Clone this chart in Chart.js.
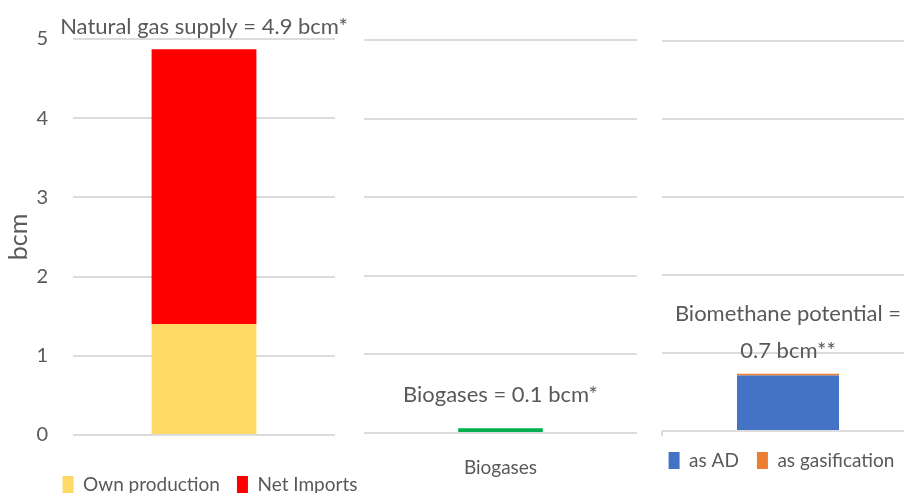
<!DOCTYPE html>
<html>
<head>
<meta charset="utf-8">
<script src="https://cdn.jsdelivr.net/npm/chart.js@4.4.1/dist/chart.umd.min.js"></script>
<style>
  html, body { margin: 0; padding: 0; background: #fff; overflow: hidden; }
  body { width: 904px; height: 493px; position: relative; }
  canvas { position: absolute; top: 0; }
  #supplyChart { left: 0; }
  #biogasChart { left: 340px; }
  #potentialChart { left: 600px; }
</style>
</head>
<body>
<canvas id="supplyChart" width="420" height="504"></canvas>
<canvas id="biogasChart" width="320" height="493"></canvas>
<canvas id="potentialChart" width="363" height="480"></canvas>
<script>
// values in bcm
var supplyLabels = ["Natural gas supply"];
var ownProduction = [1.40];
var netImports = [3.47];

var biogasLabels = ["Biogases"];
var biogases = [0.06];

var potentialLabels = ["Biomethane potential"];
var asAD = [0.71];
var asGasification = [0.025];

var yMin = 0;
var yMax = 5;
var yStep = 1;

var FONT = 'Lato, "Liberation Sans", Arial, sans-serif';
var TEXT = "#595959";
var GRID = "#dcdcdc";

Chart.defaults.font.family = FONT;
Chart.defaults.color = TEXT;
Chart.defaults.animation = false;

function total(list, i) {
    var s = 0;
    list.forEach(function (arr) { s += arr[i]; });
    return s;
}

// text written above the stacked bar, positioned from the bar's top value
var barNotes = {
    id: "barNotes",
    afterDatasetsDraw: function (chart, args, opts) {
        if (!opts.lines) return;
        var ctx = chart.ctx;
        var sets = chart.data.datasets.map(function (d) { return d.data; });
        var top = chart.scales.y.getPixelForValue(total(sets, 0));
        var bar = chart.getDatasetMeta(0).data[0];
        ctx.save();
        ctx.font = opts.size + "px " + FONT;
        ctx.fillStyle = TEXT;
        ctx.textAlign = "center";
        ctx.textBaseline = "alphabetic";
        var n = opts.lines.length;
        opts.lines.forEach(function (t, i) {
            ctx.fillText(t, bar.x, top - opts.gap - (n - 1 - i) * opts.lineHeight);
        });
        ctx.restore();
    }
};

function yScale(width, showTicks) {
    return {
        stacked: true,
        min: yMin,
        max: yMax,
        border: { display: false },
        grid: { color: GRID, lineWidth: 2, drawTicks: false },
        ticks: { display: showTicks, stepSize: yStep, padding: 25, font: { size: 20 } },
        afterFit: function (s) { s.width = width; }
    };
}

// empty right-hand axis, only reserves room so the legend centres under the whole panel
function spacer(width) {
    return {
        position: "right",
        display: true,
        border: { display: false },
        grid: { display: false, drawTicks: false },
        ticks: { display: false },
        afterFit: function (s) { s.width = width; }
    };
}

// Natural gas supply
var supplyChart = new Chart(document.getElementById("supplyChart"), {
    type: "bar",
    data: {
        labels: supplyLabels,
        datasets: [
            { label: "Own production", data: ownProduction, backgroundColor: "#ffd966" },
            { label: "Net Imports", data: netImports, backgroundColor: "#ff0000" }
        ]
    },
    options: {
        responsive: false,
        layout: { padding: { top: 39, left: 0, right: 0, bottom: 0 } },
        datasets: { bar: { barPercentage: 1, categoryPercentage: 0.4 } },
        scales: {
            x: {
                stacked: true,
                border: { display: false },
                grid: { display: false, drawTicks: false },
                ticks: { display: false },
                afterFit: function (s) { s.height = 23; }
            },
            y: Object.assign(yScale(73, true), {
                title: { display: true, text: "bcm", font: { size: 25 }, padding: { top: 4, bottom: 0 } }
            }),
            spare: spacer(85)
        },
        plugins: {
            legend: {
                position: "bottom",
                labels: { boxWidth: 11, boxHeight: 17, padding: 17, font: { size: 19 }, color: TEXT }
            },
            tooltip: { enabled: false },
            barNotes: {
                lines: ["Natural gas supply = " + total([ownProduction, netImports], 0).toFixed(1) + " bcm*"],
                size: 22, gap: 15, lineHeight: 37
            }
        }
    },
    plugins: [barNotes]
});

// Biogases
var biogasChart = new Chart(document.getElementById("biogasChart"), {
    type: "bar",
    data: {
        labels: biogasLabels,
        datasets: [
            { label: "Biogases", data: biogases, backgroundColor: "#00b050" }
        ]
    },
    options: {
        responsive: false,
        layout: { padding: { top: 40, left: 0, right: 23, bottom: 0 } },
        datasets: { bar: { barPercentage: 1, categoryPercentage: 0.31 } },
        scales: {
            x: {
                border: { display: false },
                grid: { display: false, drawTicks: false },
                ticks: { padding: 23, font: { size: 19 } },
                afterFit: function (s) { s.height = 60; }
            },
            y: yScale(24, false)
        },
        plugins: {
            legend: { display: false },
            tooltip: { enabled: false },
            barNotes: {
                lines: ["Biogases = " + biogases[0].toFixed(1) + " bcm*"],
                size: 22, gap: 26, lineHeight: 37
            }
        }
    },
    plugins: [barNotes]
});

// Biomethane potential
var potentialChart = new Chart(document.getElementById("potentialChart"), {
    type: "bar",
    data: {
        labels: potentialLabels,
        datasets: [
            { label: "as AD", data: asAD, backgroundColor: "#4472c4" },
            { label: "as gasification", data: asGasification, backgroundColor: "#ed7d31" }
        ]
    },
    options: {
        responsive: false,
        layout: { padding: { top: 41, left: 0, right: 0, bottom: 0 } },
        datasets: { bar: { barPercentage: 1, categoryPercentage: 0.405 } },
        scales: {
            x: {
                stacked: true,
                border: { display: false },
                grid: { drawOnChartArea: false, drawTicks: true, tickLength: 5, color: GRID, lineWidth: 2, offset: true },
                ticks: { display: false },
                afterFit: function (s) { s.height = 2; }
            },
            y: yScale(62, false),
            spare: spacer(49)
        },
        plugins: {
            legend: {
                position: "bottom",
                labels: { boxWidth: 11, boxHeight: 17, padding: 18, font: { size: 19 }, color: TEXT }
            },
            tooltip: { enabled: false },
            barNotes: {
                lines: ["Biomethane potential =", total([asAD, asGasification], 0).toFixed(1) + " bcm**"],
                size: 22, gap: 16, lineHeight: 37
            }
        }
    },
    plugins: [barNotes]
});
</script>
</body>
</html>
